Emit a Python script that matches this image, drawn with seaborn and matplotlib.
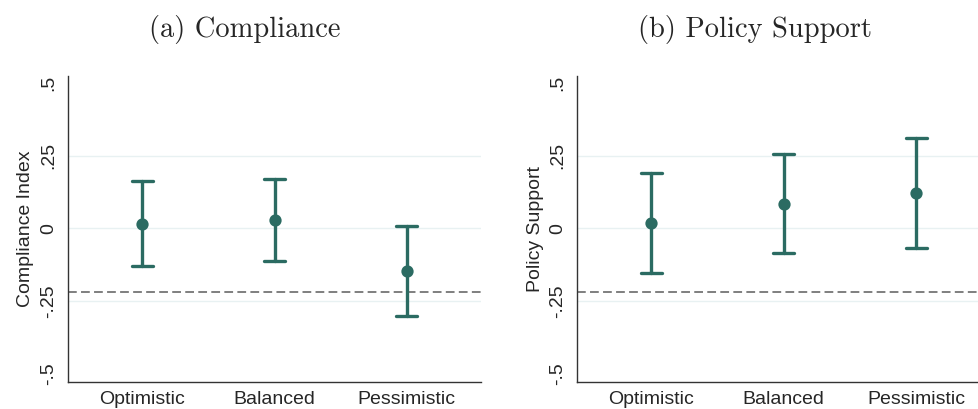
import numpy as np
import pandas as pd
import matplotlib
matplotlib.use("Agg")
import matplotlib.pyplot as plt
import seaborn as sns

# values
categories = ["Optimistic", "Balanced", "Pessimistic"]

comp_est = [0.017, 0.029, -0.147]
comp_lo = [-0.128, -0.111, -0.302]
comp_hi = [0.164, 0.171, 0.010]

pol_est = [0.019, 0.085, 0.123]
pol_lo = [-0.152, -0.086, -0.066]
pol_hi = [0.192, 0.258, 0.312]

ref_line = -0.218
ytick_vals = [-0.5, -0.25, 0, 0.25, 0.5]
ytick_labels = ["-.5", "-.25", "0", ".25", ".5"]

teal = "#2b6b62"

sns.set_style("white")
plt.rcParams["font.family"] = ["Liberation Sans", "DejaVu Sans"]


def long_table(est, lo, hi):
    # three rows per category: median = estimate, min/max = CI bounds
    rows = []
    for c, e, l, h in zip(categories, est, lo, hi):
        for v in (l, e, h):
            rows.append({"group": c, "value": v})
    return pd.DataFrame(rows)


fig = plt.figure(figsize=(9.79, 4.09), dpi=100)
ax1 = fig.add_axes([0.0695, 0.0667, 0.4218, 0.7475])
ax2 = fig.add_axes([0.5897, 0.0667, 0.4218, 0.7475])

panels = [
    (ax1, comp_est, comp_lo, comp_hi, "Compliance Index"),
    (ax2, pol_est, pol_lo, pol_hi, "Policy Support"),
]

for ax, est, lo, hi, ylab in panels:
    df = long_table(est, lo, hi)
    for g in [-0.25, 0, 0.25]:
        ax.axhline(g, color="#e8f1f2", lw=1.0, zorder=0)
    ax.axhline(ref_line, color="#7f7f7f", lw=1.4, ls=(0, (4.5, 2.2)), zorder=1)
    sns.pointplot(data=df, x="group", y="value", order=categories,
                  estimator="median", errorbar=("pi", 100),
                  linestyle="none", color=teal, capsize=0.16,
                  markers="o", markersize=6.8,
                  err_kws={"linewidth": 2.4}, ax=ax)
    ax.set_xlim(-0.56, 2.56)
    ax.set_ylim(-0.5275, 0.525)
    ax.set_yticks(ytick_vals)
    ax.set_yticklabels(ytick_labels, rotation=90, va="center", fontsize=14)
    ax.tick_params(axis="x", labelsize=14, length=5, width=1, color="#333333", pad=2)
    ax.tick_params(axis="y", length=5, width=1, color="#333333", pad=3)
    ax.set_xlabel("")
    ax.set_ylabel(ylab, fontsize=14, labelpad=4)
    for s in ["top", "right"]:
        ax.spines[s].set_visible(False)
    for s in ["left", "bottom"]:
        ax.spines[s].set_color("#333333")
        ax.spines[s].set_linewidth(1.0)
    ax.grid(False)

fig.text(0.2503, 0.927, "(a) Compliance", ha="center", va="center",
         fontsize=20.5, family="cmr10")
fig.text(0.7715, 0.927, "(b) Policy Support", ha="center", va="center",
         fontsize=20.5, family="cmr10")

fig.savefig("out.png", dpi=100)
